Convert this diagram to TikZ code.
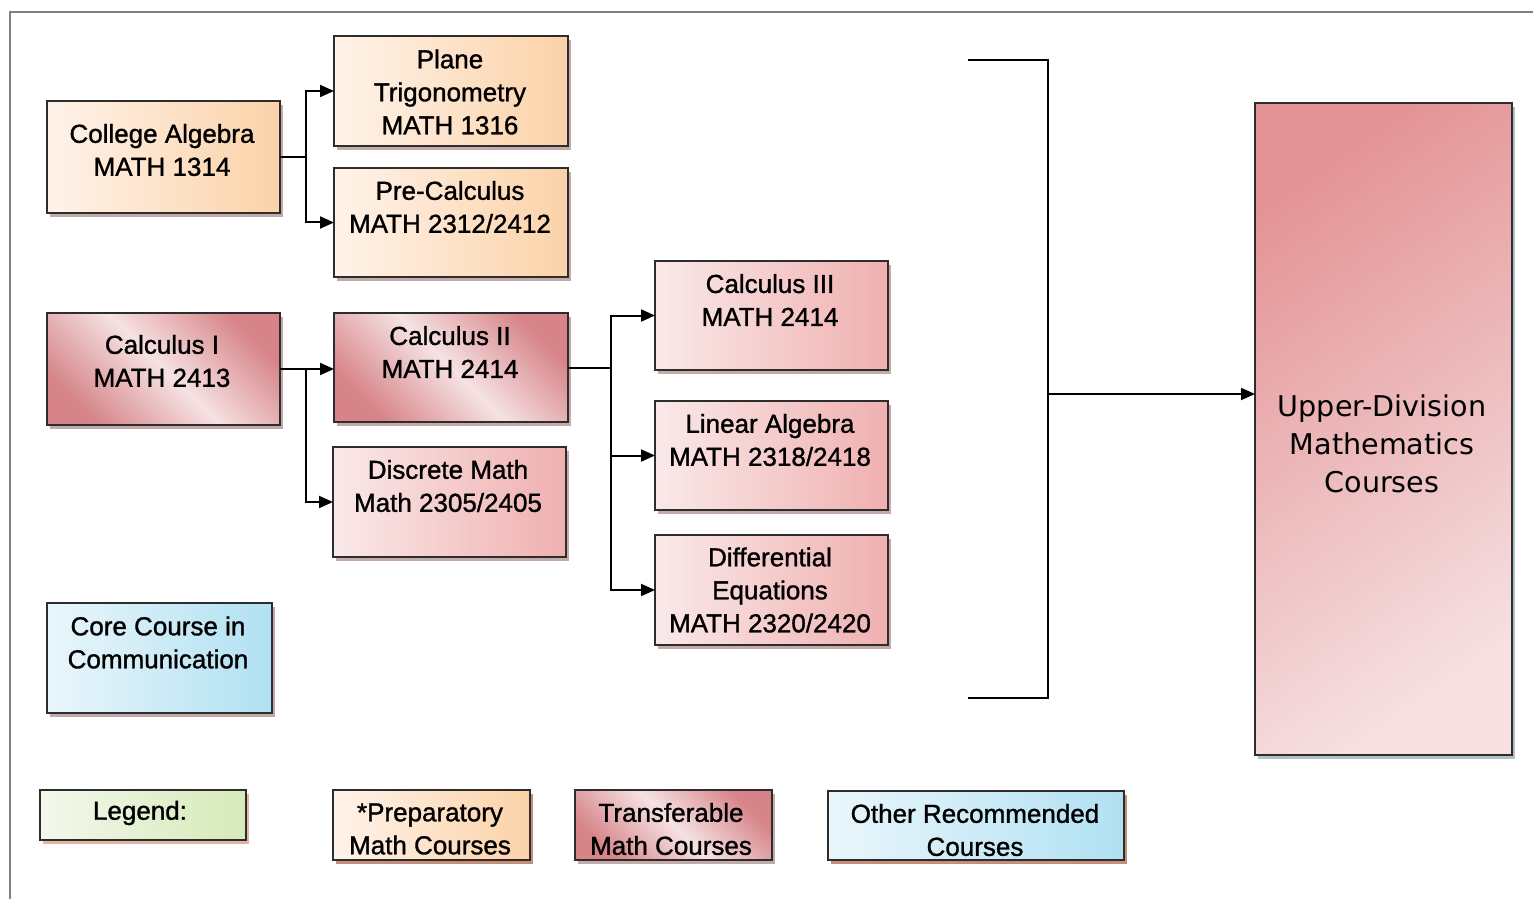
\documentclass[tikz,border=0pt]{standalone}
\usepackage{fontspec}
\setmainfont[FakeBold=1.2]{Liberation Sans}
\newfontfamily\udfont{DejaVu Sans}
\usetikzlibrary{arrows.meta,shadows}
\definecolor{orL}{RGB}{255,243,234}
\definecolor{orR}{RGB}{251,210,168}
\definecolor{rdD}{RGB}{214,132,136}
\definecolor{rdL}{RGB}{246,226,227}
\definecolor{pkL}{RGB}{250,233,233}
\definecolor{pkR}{RGB}{240,176,176}
\definecolor{blL}{RGB}{234,246,251}
\definecolor{blR}{RGB}{176,225,242}
\definecolor{gnL}{RGB}{243,248,236}
\definecolor{gnR}{RGB}{214,234,184}
\definecolor{udD}{RGB}{228,148,150}
\definecolor{udL}{RGB}{246,224,226}
\definecolor{framecol}{RGB}{128,128,128}
\definecolor{edgecol}{RGB}{45,45,45}
\definecolor{shR}{RGB}{150,100,100}
\definecolor{shO}{RGB}{200,120,80}
\definecolor{shB}{RGB}{110,140,155}
\tikzset{
  box/.style={draw=edgecol, line width=1pt, inner sep=0pt, outer sep=0pt,
    general shadow={fill=#1, shadow xshift=1.6pt, shadow yshift=-1.8pt, opacity=0.55}},
  box/.default=shR,
  prep/.style={box=shR, left color=orL, right color=orR},
  transf/.style={box=shR, top color=rdD, bottom color=rdD, middle color=rdL, shading angle=-45},
  pinkbox/.style={box=shR, left color=pkL, right color=pkR},
  bluebox/.style={box=shR, left color=blL, right color=blR},
  greenbox/.style={box=shO, left color=gnL, right color=gnR},
  upperbox/.style={box=shB, top color=udD, bottom color=udL, shading angle=35},
  txt/.style={align=center, font=\fontsize{13}{16.5}\selectfont, inner sep=0pt},
  wire/.style={line width=1pt, draw=black},
  arr/.style={wire, -{Triangle[length=7pt,width=6pt]}}
}
\begin{document}
\begin{tikzpicture}[x=0.5pt,y=-0.5pt]
\useasboundingbox (0,0) rectangle (1533,899);
\draw[framecol, line width=1.2pt] (10,899) -- (10,12) -- (1533,12);

% boxes
\node[prep, minimum width=116.5pt, minimum height=56pt] (ca) at (163.5,157) {};
\node[prep, minimum width=117pt, minimum height=55pt] (pt) at (451,91) {};
\node[prep, minimum width=117pt, minimum height=54.5pt] (pc) at (451,222.5) {};
\node[transf, minimum width=116.5pt, minimum height=56pt] (c1) at (163.5,369) {};
\node[transf, minimum width=117pt, minimum height=54.5pt] (c2) at (451,367.5) {};
\node[pinkbox, minimum width=116.5pt, minimum height=55pt] (dm) at (449.5,502) {};
\node[pinkbox, minimum width=116.5pt, minimum height=54.5pt] (c3) at (771.5,315.5) {};
\node[pinkbox, minimum width=116.5pt, minimum height=54.5pt] (la) at (771.5,455.5) {};
\node[pinkbox, minimum width=116.5pt, minimum height=55pt] (de) at (771.5,590) {};
\node[bluebox, minimum width=112.5pt, minimum height=55pt] (cc) at (159.5,658) {};
\node[upperbox, minimum width=128.5pt, minimum height=326pt] (ud) at (1383.5,429) {};
\node[greenbox, minimum width=103pt, minimum height=25pt] (lg) at (143,815) {};
\node[prep, box=shO, minimum width=98.5pt, minimum height=35pt] (lp) at (431.5,825) {};
\node[transf, minimum width=98.5pt, minimum height=35pt] (lt) at (673.5,825) {};
\node[bluebox, box=shO, minimum width=148pt, minimum height=34.5pt] (lo) at (976,825.5) {};

% texts
\node[txt] (caT) at (162,150) {College Algebra\\MATH 1314};
\node[txt] (ptT) at (450,92) {Plane\\Trigonometry\\MATH 1316};
\node[txt] (pcT) at (450,207) {Pre-Calculus\\MATH 2312/2412};
\node[txt] (c1T) at (162,361) {Calculus I\\MATH 2413};
\node[txt] (c2T) at (450,352) {Calculus II\\MATH 2414};
\node[txt] (dmT) at (448,486) {Discrete Math\\Math 2305/2405};
\node[txt] (c3T) at (770,300) {Calculus III\\MATH 2414};
\node[txt] (laT) at (770,440) {Linear Algebra\\MATH 2318/2418};
\node[txt] (deT) at (770,590) {Differential\\Equations\\MATH 2320/2420};
\node[txt] (ccT) at (158,642.5) {Core Course in\\Communication};
\node[txt, font=\udfont\fontsize{14.3}{19}\selectfont] (udT) at (1382,444) {Upper-Division\\Mathematics\\Courses};
\node[txt] (lgT) at (140,813) {Legend:};
\node[txt] (lpT) at (430,829) {*Preparatory\\Math Courses};
\node[txt] (ltT) at (671,829) {Transferable\\Math Courses};
\node[txt] (loT) at (975,830) {Other Recommended\\Courses};

% connectors
\draw[wire] (ca.east) -- ++(26,0) coordinate (j1);
\draw[arr] (j1) |- (pt.west);
\draw[arr] (j1) |- (pc.west);
\draw[wire] (c1.east) -- ++(26,0) coordinate (j2);
\draw[arr] (c1.east) -- (c1.east -| c2.west);
\draw[arr] (j2) |- (dm.west);
\draw[wire] (c2.east) -- ++(43,0) coordinate (j3);
\draw[arr] (j3) |- (c3.west);
\draw[arr] (j3) |- (la.west);
\draw[arr] (j3) |- (de.west);
\coordinate (b1) at (968,60);
\coordinate (b2) at (1048,60);
\coordinate (b3) at (1048,698);
\coordinate (b4) at (968,698);
\coordinate (bm) at (1048,394);
\draw[wire] (b1) -- (b2) -- (b3) -- (b4);
\draw[arr] (bm) -- (bm -| ud.west);
\end{tikzpicture}
\end{document}
